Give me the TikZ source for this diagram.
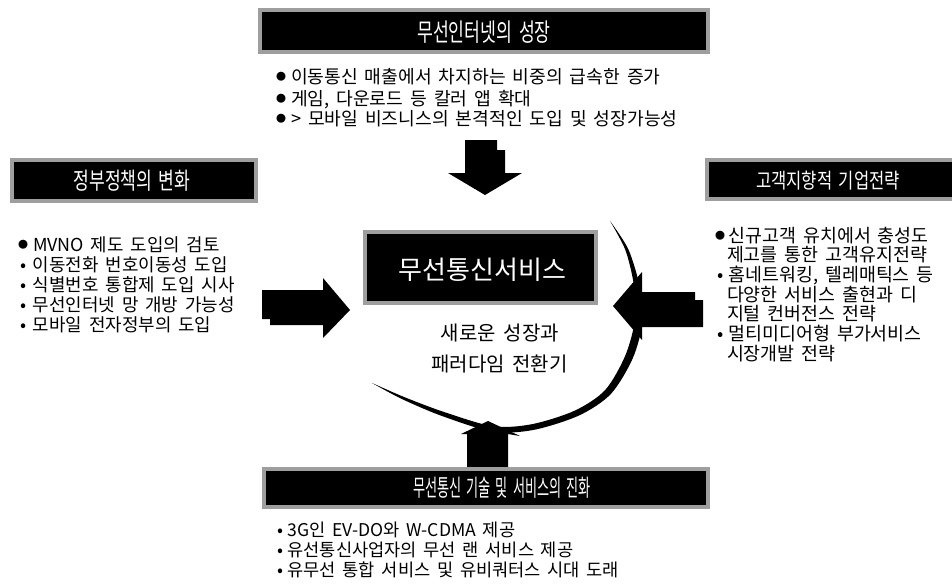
\documentclass[tikz,border=0pt]{standalone}
\usepackage{fontspec}
\usepackage{graphicx}
\setmainfont[WordSpace=1.7]{Noto Sans CJK KR}
\newcommand\bigb[1]{\makebox[#1][l]{\hspace{-2pt}\raisebox{2.8pt}{\fontsize{10}{10}\selectfont ●}}}
\newcommand\smb[1]{\makebox[#1][l]{•}}
\begin{document}
\begin{tikzpicture}[x=1pt,y=-1pt,
  hdr/.style={fill=black,draw=black!38,line width=3.5pt,inner sep=0pt,outer sep=0pt},
  ttl/.style={text=white,inner sep=0pt},
  bt/.style={anchor=base west,inner sep=0pt,outer sep=0pt},
  blk/.style={fill=black}]
\useasboundingbox (0,0) rectangle (952,586);

% block arrows
\fill[blk] (465,140) -- (497,140) -- (497,150) -- (505,150) -- (505,173) -- (522,173)
  -- (485,195) -- (448,173) -- (465,173) -- cycle;
\fill[blk] (262,290) -- (323,290) -- (323,278) -- (350,310) -- (323,338) -- (323,325)
  -- (270,325) -- (270,319) -- (262,319) -- cycle;
\fill[blk] (703,300) -- (703,327) -- (642,327) -- (642,340) -- (613,306) -- (642,272)
  -- (642,292) -- (695,292) -- (695,300) -- cycle;
\fill[blk] (467,467) -- (467,434) -- (461,434) -- (488,421) -- (520,436) -- (508,434)
  -- (508,467) -- cycle;

% crescent arc
\fill[blk] plot[smooth] coordinates {(610,221) (628.4,249.4) (639.7,286.5) (643,320.1)
  (632.8,358.2) (610.9,393.9) (579.2,415.4) (534.1,429.8) (493.1,431.75) (442,416)
  (401.9,399) (372,383)}
  -- plot[smooth] coordinates {(372,383) (404.1,397) (444,412) (492.9,426.25)
  (531.9,424.2) (574.8,410.6) (605.1,390.1) (625.2,355.8) (635,319.9) (634.3,287.5)
  (625.6,250.6) (610,221)} -- cycle;

% headers
\node[hdr,minimum width=448pt,minimum height=42pt] (hTop) at (484,31) {};
\node[ttl] (lTop) at (484,32) {\scalebox{0.69}[1]{\fontsize{25}{25}\selectfont 무선인터넷의 성장}};
\node[hdr,minimum width=244pt,minimum height=41pt] (hLeft) at (134,180.5) {};
\node[ttl] (lLeft) at (132,181) {\scalebox{0.73}[1]{\fontsize{23.5}{23.5}\selectfont 정부정책의 변화}};
\node[hdr,minimum width=247pt,minimum height=39pt] (hRight) at (830.5,179.5) {};
\node[ttl] (lRight) at (828,181) {\scalebox{0.79}[1]{\fontsize{21}{21}\selectfont 고객지향적 기업전략}};
\node[hdr,minimum width=444pt,minimum height=38pt] (hBot) at (486,488) {};
\node[ttl] (lBot) at (502,488) {\scalebox{0.56}[1]{\fontsize{23.5}{23.5}\selectfont 무선통신 기술 및 서비스의 진화}};
\node[hdr,minimum width=231pt,minimum height=71pt] (hMid) at (480.5,267.5) {};
\node[ttl] (lMid) at (482.5,270) {\fontsize{26}{26}\selectfont 무선통신서비스};
\node[inner sep=0pt] (s1) at (500,333) {\fontsize{20}{20}\selectfont 새로운 성장과};
\node[inner sep=0pt] (s2) at (499.5,364) {\fontsize{20}{20}\selectfont 패러다임 전환기};

% top bullets
\begin{scope}[every node/.style={bt,font=\fontsize{18.2}{20}\selectfont}]
\node (t1) at (278,83) {\bigb{13pt}이동통신 매출에서 차지하는 비중의 급속한 증가};
\node (t2) at (278,105) {\bigb{13pt}게임, 다운로드 등 칼러 앱 확대};
\node (t3) at (278,125) {\bigb{13pt}> 모바일 비즈니스의 본격적인 도입 및 성장가능성};
\end{scope}
% left bullets
\begin{scope}[every node/.style={bt,font=\fontsize{17.9}{20}\selectfont}]
\node (l1) at (20,251.5) {\bigb{13pt}MVNO 제도 도입의 검토};
\node (l2) at (20,271.5) {\smb{13pt}이동전화 번호이동성 도입};
\node (l3) at (20,291.5) {\smb{13pt}식별번호 통합제 도입 시사};
\node (l4) at (20,311.5) {\smb{13pt}무선인터넷 망 개방 가능성};
\node (l5) at (20,331.5) {\smb{13pt}모바일 전자정부의 도입};
\end{scope}
% right bullets
\begin{scope}[every node/.style={bt,font=\fontsize{18.4}{20}\selectfont}]
\node (r1) at (717,242) {\bigb{11.5pt}신규고객 유치에서 충성도};
\node (r2) at (727,261.5) {제고를 통한 고객유지전략};
\node (r3) at (717,281) {\smb{11.5pt}홈네트워킹, 텔레매틱스 등};
\node (r4) at (727,301) {다양한 서비스 출현과 디};
\node (r5) at (727,320.5) {지털 컨버전스 전략};
\node (r6) at (717,340) {\smb{11.5pt}멀티미디어형 부가서비스};
\node (r7) at (727,360) {시장개발 전략};
\end{scope}
% bottom bullets
\begin{scope}[every node/.style={bt,font=\fontsize{17.6}{20}\selectfont}]
\node (b1) at (277,536) {\smb{10.5pt}3G인 EV-DO와 W-CDMA 제공};
\node (b2) at (277,556) {\smb{10.5pt}유선통신사업자의 무선 랜 서비스 제공};
\node (b3) at (277,576) {\smb{10.5pt}유무선 통합 서비스 및 유비쿼터스 시대 도래};
\end{scope}
\end{tikzpicture}
\end{document}
